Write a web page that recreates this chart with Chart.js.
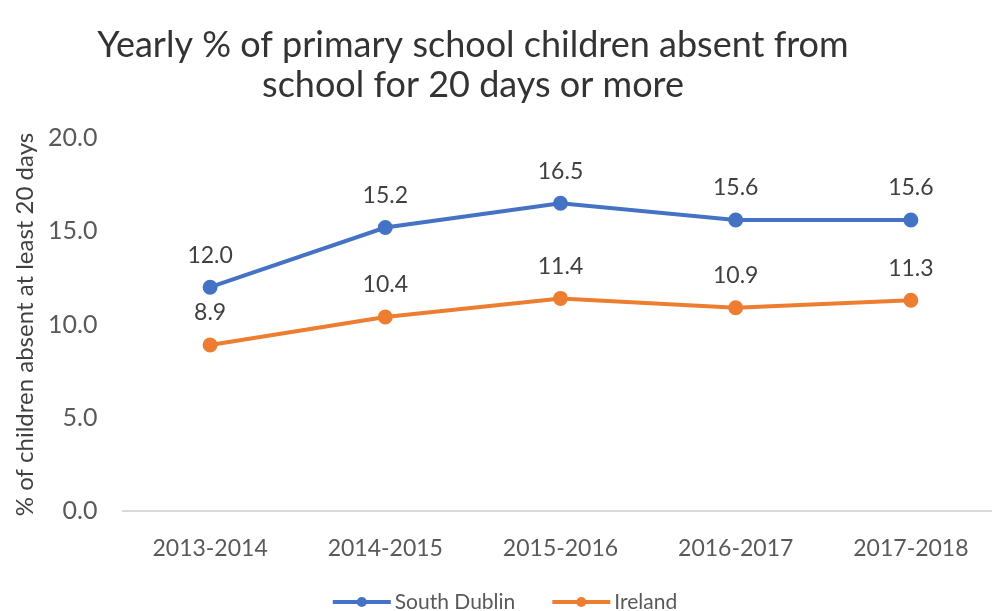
<!DOCTYPE html>
<html>
<head>
<meta charset="utf-8">
<script src="https://cdn.jsdelivr.net/npm/chart.js@4"></script>
<style>
  html, body { margin: 0; padding: 0; background: #fff; overflow: hidden; }
</style>
</head>
<body>
<canvas id="chart" width="1000" height="611"></canvas>
<script>
const years = ["2013-2014", "2014-2015", "2015-2016", "2016-2017", "2017-2018"];
const southDublin = [12.0, 15.2, 16.5, 15.6, 15.6];
const ireland = [8.9, 10.4, 11.4, 10.9, 11.3];
const yTicks = [0, 5, 10, 15, 20];
const titleLines = ["Yearly % of primary school children absent from", "school for 20 days or more"];

const BLUE = "#4472C4";
const ORANGE = "#ED7D31";
const FONT = "Lato, 'Open Sans', sans-serif";

const titlePlugin = {
  id: "titleText",
  afterDraw(chart) {
    const ctx = chart.ctx;
    ctx.save();
    ctx.font = "36px " + FONT;
    ctx.fillStyle = "#333333";
    ctx.textAlign = "center";
    ctx.textBaseline = "middle";
    ctx.fillText(titleLines[0], 473, 45);
    ctx.fillText(titleLines[1], 473, 85);
    ctx.restore();
  }
};

const valueLabels = {
  id: "valueLabels",
  afterDatasetsDraw(chart) {
    const ctx = chart.ctx;
    ctx.save();
    ctx.font = "23px " + FONT;
    ctx.fillStyle = "#404040";
    ctx.textAlign = "center";
    ctx.textBaseline = "middle";
    chart.data.datasets.forEach((ds, i) => {
      chart.getDatasetMeta(i).data.forEach((pt, j) => {
        ctx.fillText(ds.data[j].toFixed(1), pt.x, pt.y - 32);
      });
    });
    ctx.restore();
  }
};

// excel-ish legend: line with a dot, then the name
const lineLegend = {
  id: "lineLegend",
  afterDraw(chart) {
    const ctx = chart.ctx;
    const sw = 58, gap = 4, itemGap = 37, y = 602;
    ctx.save();
    ctx.font = "21px " + FONT;
    ctx.textBaseline = "middle";
    ctx.textAlign = "left";
    const items = chart.data.datasets.map(ds => ({ text: ds.label, color: ds.borderColor, w: ctx.measureText(ds.label).width }));
    let total = items.reduce((s, it) => s + sw + gap + it.w, 0) + itemGap * (items.length - 1);
    let x = 505 - total / 2;
    items.forEach(it => {
      ctx.strokeStyle = it.color;
      ctx.lineWidth = 4;
      ctx.beginPath(); ctx.moveTo(x, y); ctx.lineTo(x + sw, y); ctx.stroke();
      ctx.fillStyle = it.color;
      ctx.beginPath(); ctx.arc(x + sw / 2, y, 5, 0, Math.PI * 2); ctx.fill();
      ctx.fillStyle = "#595959";
      ctx.fillText(it.text, x + sw + gap, y);
      x += sw + gap + it.w + itemGap;
    });
    ctx.restore();
  }
};

new Chart(document.getElementById("chart"), {
  type: "line",
  data: {
    labels: years,
    datasets: [
      { label: "South Dublin", data: southDublin, borderColor: BLUE, backgroundColor: BLUE,
        borderWidth: 4, pointRadius: 5.5, pointBackgroundColor: BLUE, pointBorderColor: BLUE, tension: 0 },
      { label: "Ireland", data: ireland, borderColor: ORANGE, backgroundColor: ORANGE,
        borderWidth: 4, pointRadius: 5.5, pointBackgroundColor: ORANGE, pointBorderColor: ORANGE, tension: 0 }
    ]
  },
  options: {
    responsive: false,
    animation: false,
    devicePixelRatio: 1,
    layout: { autoPadding: false, padding: { top: 138, left: 10.5, right: 1.5, bottom: 40 } },
    plugins: {
      title: { display: false },
      tooltip: { enabled: false },
      legend: { display: false }
    },
    scales: {
      x: {
        offset: true,
        afterFit(scale) { scale.height = 60; scale.paddingLeft = 0; scale.paddingRight = 0; },
        grid: { display: false, drawTicks: false },
        border: { display: true, color: "#d9d9d9", width: 2 },
        ticks: { font: { family: FONT, size: 23 }, color: "#595959", padding: 24 }
      },
      y: {
        min: 0,
        max: 20,
        afterBuildTicks(scale) { scale.ticks = yTicks.map(v => ({ value: v })); },
        afterFit(scale) { scale.width = 112; },
        grid: { display: false, drawTicks: false },
        border: { display: false },
        ticks: {
          font: { family: FONT, size: 25 },
          color: "#595959",
          padding: 25,
          callback: v => Number(v).toFixed(1)
        },
        title: {
          display: true,
          text: "% of children absent at least 20 days",
          font: { family: FONT, size: 24 },
          color: "#404040",
          padding: { top: 0, bottom: 12 }
        }
      }
    }
  },
  plugins: [titlePlugin, valueLabels, lineLegend]
});
</script>
</body>
</html>
